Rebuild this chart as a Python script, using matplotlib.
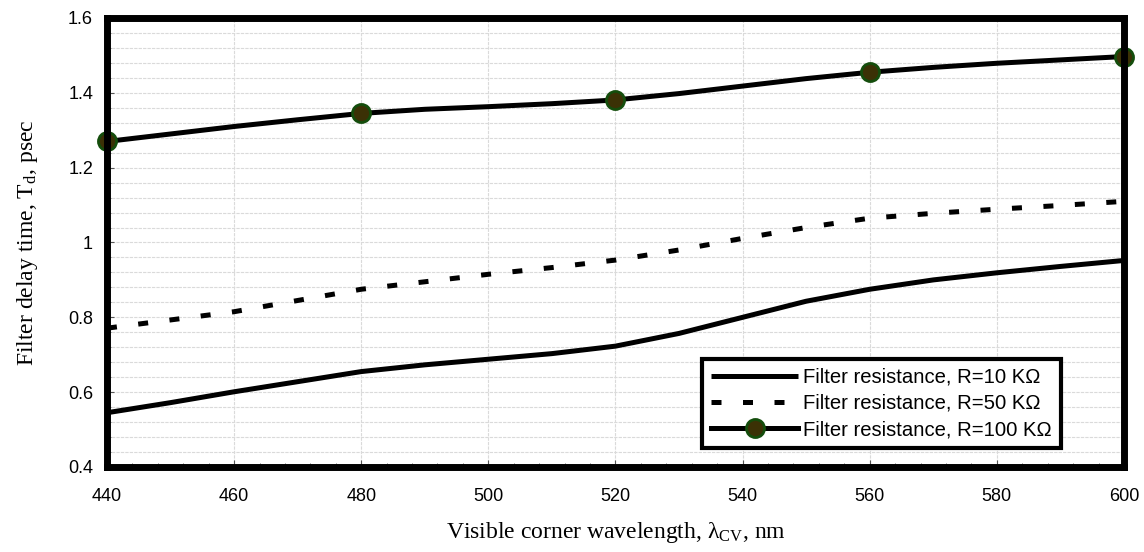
import matplotlib
matplotlib.use('Agg')
import matplotlib.pyplot as plt
from matplotlib.ticker import MultipleLocator

# wavelength samples, nm
wl = [440, 450, 460, 470, 480, 490, 500, 510, 520,
      530, 540, 550, 560, 570, 580, 590, 600]

# filter delay time, psec
td_10k = [0.545, 0.572, 0.601, 0.628, 0.655, 0.673, 0.688, 0.703, 0.723,
          0.757, 0.800, 0.843, 0.875, 0.900, 0.919, 0.936, 0.952]
td_50k = [0.771, 0.793, 0.815, 0.845, 0.875, 0.895, 0.915, 0.933, 0.953,
          0.980, 1.011, 1.040, 1.065, 1.078, 1.089, 1.099, 1.110]
td_100k = [1.270, 1.290, 1.310, 1.328, 1.345, 1.356, 1.363, 1.371, 1.381,
           1.398, 1.418, 1.438, 1.455, 1.468, 1.479, 1.488, 1.497]

labels = ['Filter resistance, R=10 K\u03a9',
          'Filter resistance, R=50 K\u03a9',
          'Filter resistance, R=100 K\u03a9']

plt.rcParams['font.family'] = ['Liberation Sans', 'DejaVu Sans']
plt.rcParams['mathtext.fontset'] = 'custom'
plt.rcParams['mathtext.rm'] = 'Liberation Serif'
plt.rcParams['mathtext.it'] = 'Liberation Serif:italic'

fig = plt.figure(figsize=(11.44, 5.52), dpi=100)
ax = fig.add_axes([0.0935, 0.154, 0.889, 0.8134])

ax.plot(wl, td_10k, color='black', lw=3.6, solid_capstyle='butt', label=labels[0], zorder=3)
ax.plot(wl, td_50k, color='black', lw=3.6, ls=(0, (2, 4.3)), dash_capstyle='butt',
        label=labels[1], zorder=3)
ax.plot(wl, td_100k, color='black', lw=3.6, marker='o', markevery=4, markersize=13,
        markerfacecolor='#3b3105', markeredgecolor='#144d0c', markeredgewidth=2,
        label=labels[2], zorder=4, clip_on=False)

ax.set_xlim(440, 600)
ax.set_ylim(0.4, 1.6)
ax.xaxis.set_major_locator(MultipleLocator(20))
ax.xaxis.set_minor_locator(MultipleLocator(4))
ax.yaxis.set_minor_locator(MultipleLocator(0.04))
ax.set_yticks([0.4, 0.6, 0.8, 1.0, 1.2, 1.4, 1.6])
ax.set_yticklabels(['0.4', '0.6', '0.8', '1', '1.2', '1.4', '1.6'])

ax.grid(True, which='major', axis='x', color='#dadada', lw=0.8, ls=(0, (3, 1)))
ax.grid(True, which='both', axis='y', color='#dadada', lw=0.8, ls=(0, (3, 1)))
ax.set_axisbelow(True)

ax.tick_params(which='both', direction='in', labelsize=13, color='#555555')
ax.tick_params(which='major', length=5, width=0.8)
ax.tick_params(which='minor', length=3, width=0.6)
ax.tick_params(axis='x', pad=15)
ax.tick_params(axis='y', pad=10)

for s in ax.spines.values():
    s.set_linewidth(5)
    s.set_capstyle('projecting')
    s.set_zorder(5)

ax.set_xlabel('Visible corner wavelength, \u03bb$_{\\mathrm{CV}}$, nm',
              family='Liberation Serif', fontsize=17, labelpad=11)
ax.set_ylabel('Filter delay time, T$_{\\mathrm{d}}$, psec',
              family='Liberation Serif', fontsize=17, labelpad=20)

leg = ax.legend(loc='lower left', bbox_to_anchor=(0.585, 0.042), borderaxespad=0,
                fontsize=14.6, handlelength=4.3, fancybox=False, framealpha=1,
                edgecolor='black', labelspacing=0.35, handletextpad=0.25,
                borderpad=0.45)
leg.get_frame().set_linewidth(3)
leg.set_zorder(6)

fig.savefig('out.png', dpi=100)
